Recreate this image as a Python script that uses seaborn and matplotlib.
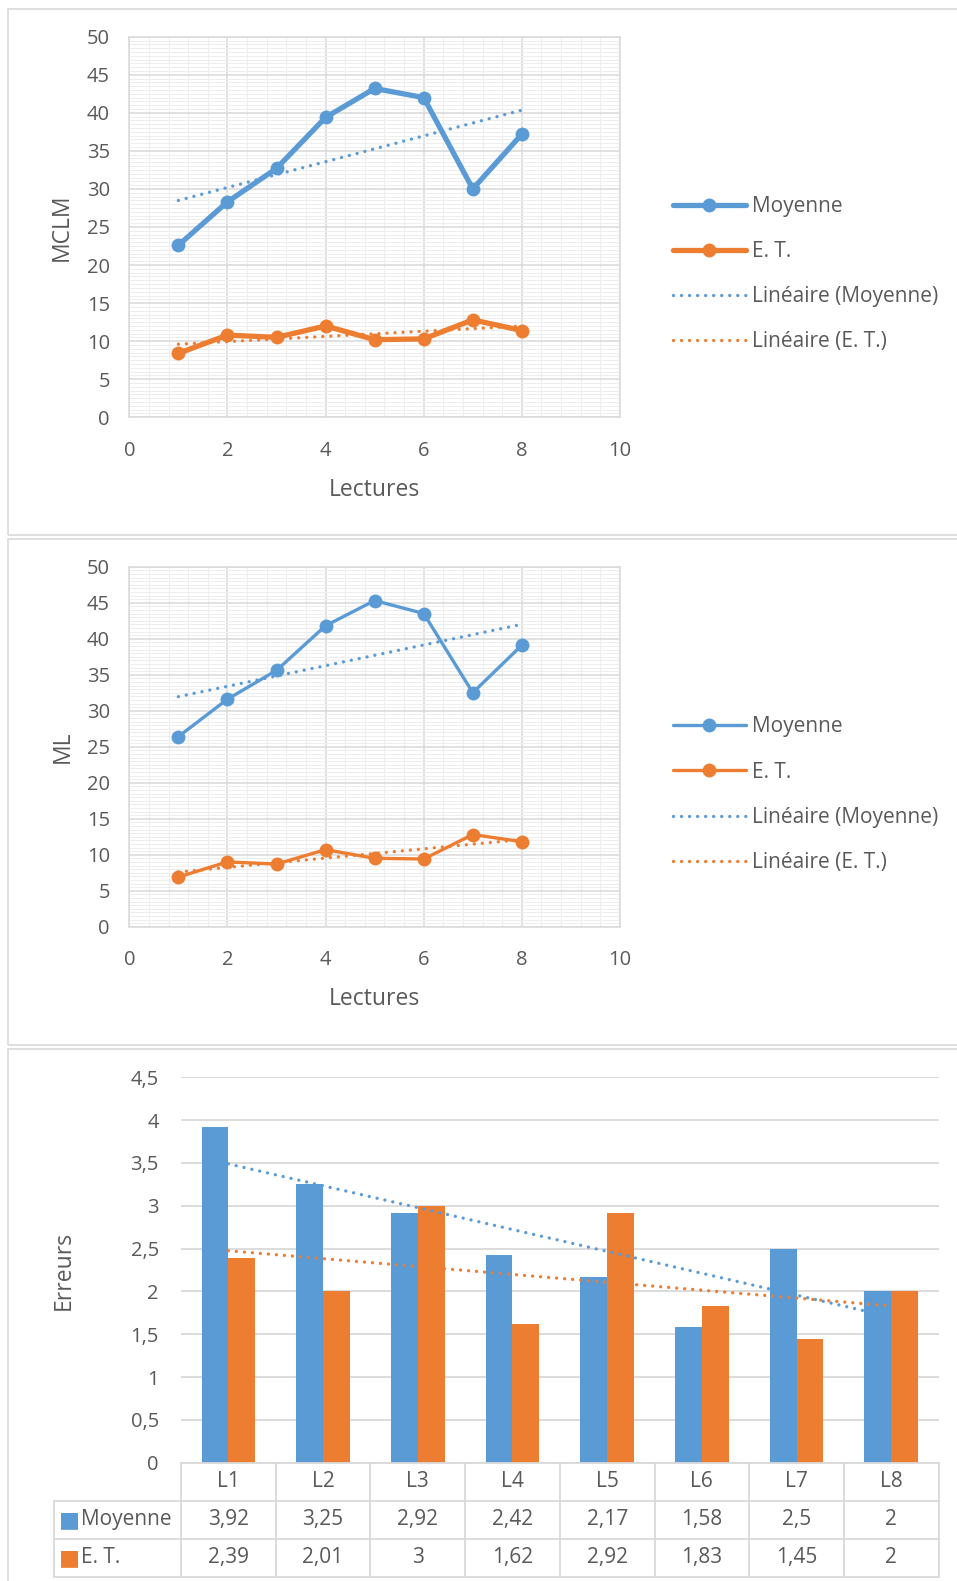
import numpy as np
import pandas as pd
import matplotlib.pyplot as plt
from matplotlib.patches import Rectangle
from matplotlib.ticker import MultipleLocator, FuncFormatter
import seaborn as sns

# donnees
lectures = [1, 2, 3, 4, 5, 6, 7, 8]
mclm_moy = [22.6, 28.3, 32.7, 39.4, 43.2, 42.0, 30.0, 37.2]
mclm_et = [8.4, 10.8, 10.5, 12.0, 10.2, 10.3, 12.8, 11.4]
ml_moy = [26.4, 31.6, 35.6, 41.8, 45.3, 43.5, 32.5, 39.1]
ml_et = [6.9, 9.0, 8.7, 10.7, 9.5, 9.4, 12.8, 11.8]

err_cats = ['L1', 'L2', 'L3', 'L4', 'L5', 'L6', 'L7', 'L8']
err_moy = [3.92, 3.25, 2.92, 2.42, 2.17, 1.58, 2.5, 2]
err_et = [2.39, 2.01, 3, 1.62, 2.92, 1.83, 1.45, 2]

BLUE = '#5B9BD5'
ORANGE = '#ED7D31'
GRID = '#d9d9d9'
TXT = '#595959'
DOTS = dict(ls=(0, (0.01, 2.4)), dash_capstyle='round', lw=2.4)
FS_TICK = 14.5
FS_TITLE = 16.5
FS_LEG = 15

sns.set_style('white')
plt.rcParams['font.family'] = ['Open Sans', 'DejaVu Sans']

W, H = 957, 1581
fig = plt.figure(figsize=(W / 100, H / 100), dpi=100)


def box(l, t, r, b):
    return [l / W, 1 - b / H, (r - l) / W, (b - t) / H]


# cadres des trois graphiques
for t, b in [(8.7, 535), (539, 1044.7), (1048.7, 1600)]:
    fig.add_artist(Rectangle((8 / W, 1 - b / H), 1000 / W, (b - t) / H, transform=fig.transFigure,
                             fill=False, ec=GRID, lw=1.2))


def line_panel(rect, moy, et, ylab, lw, ticklen, ylab_x, xlab_y, leg_top):
    ax = fig.add_axes(box(*rect))
    sns.lineplot(x=lectures, y=moy, ax=ax, color=BLUE, lw=lw, marker='o', ms=10, mew=0, label='Moyenne')
    sns.lineplot(x=lectures, y=et, ax=ax, color=ORANGE, lw=lw, marker='o', ms=10, mew=0, label='E. T.')
    sns.regplot(x=lectures, y=moy, ax=ax, scatter=False, ci=None, label='Linéaire (Moyenne)',
                line_kws=dict(color=BLUE, **DOTS))
    sns.regplot(x=lectures, y=et, ax=ax, scatter=False, ci=None, label='Linéaire (E. T.)',
                line_kws=dict(color=ORANGE, **DOTS))
    ax.set_xlim(0, 10)
    ax.set_ylim(0, 50)
    ax.set_xticks(range(0, 11, 2))
    ax.set_yticks(range(0, 51, 5))
    ax.xaxis.set_minor_locator(MultipleLocator(0.4))
    ax.yaxis.set_minor_locator(MultipleLocator(0.5))
    ax.grid(which='minor', color='#eeeeee', lw=0.8)
    ax.grid(which='major', color=GRID, lw=1.1)
    ax.set_axisbelow(True)
    for s in ax.spines.values():
        s.set_color(GRID)
        s.set_linewidth(1.1)
    ax.tick_params(axis='y', which='major', length=5, color=GRID, width=1.1, pad=9,
                   labelsize=FS_TICK, labelcolor=TXT)
    ax.tick_params(axis='x', which='major', length=ticklen, color=GRID, width=1.1, pad=17 - ticklen,
                   labelsize=FS_TICK, labelcolor=TXT)
    ax.tick_params(which='minor', length=0)
    ax.set_xlabel('Lectures', fontsize=FS_TITLE, color=TXT)
    ax.set_ylabel(ylab, fontsize=FS_TITLE, color=TXT)
    ax.yaxis.set_label_coords(ylab_x, 0.5)
    ax.xaxis.set_label_coords(0.5, xlab_y)
    h, l = ax.get_legend_handles_labels()
    ax.legend(h, l, loc='upper left', bbox_to_anchor=(673 / W, 1 - leg_top / H), bbox_transform=fig.transFigure,
              frameon=False, fontsize=FS_LEG, labelcolor=TXT, handlelength=3.5, handletextpad=0.27,
              labelspacing=1.16, borderpad=0, borderaxespad=0)
    return ax


line_panel((129.3, 36.7, 620, 417.3), mclm_moy, mclm_et, 'MCLM', 3.8, 0, -0.114, -0.160, 196)
line_panel((129.3, 566.7, 620, 926.7), ml_moy, ml_et, 'ML', 2.4, 5, -0.111, -0.168, 716.5)

# graphique en barres des erreurs
ax3 = fig.add_axes(box(181, 1077.3, 938.6, 1462.7))
df = pd.DataFrame({'cat': err_cats * 2, 'val': err_moy + err_et,
                   'serie': ['Moyenne'] * len(err_cats) + ['E. T.'] * len(err_cats)})
sns.barplot(data=df, x='cat', y='val', hue='serie', palette=[BLUE, ORANGE], width=0.567, gap=0,
            errorbar=None, saturation=1, linewidth=0, legend=False, ax=ax3)
xpos = np.arange(len(err_cats))
sns.regplot(x=xpos, y=err_moy, ax=ax3, scatter=False, ci=None, line_kws=dict(color=BLUE, **DOTS))
sns.regplot(x=xpos, y=err_et, ax=ax3, scatter=False, ci=None, line_kws=dict(color=ORANGE, **DOTS))
ax3.set_yticks(np.arange(0, 4.51, 0.5))
ax3.yaxis.set_major_formatter(FuncFormatter(lambda v, _: f'{v:g}'.replace('.', ',')))
ax3.grid(axis='y', color=GRID, lw=1.3)
ax3.set_axisbelow(True)
for s in ['left', 'right', 'top']:
    ax3.spines[s].set_visible(False)
ax3.spines['bottom'].set_color(GRID)
ax3.spines['bottom'].set_linewidth(1.3)
ax3.set_xticks([])
ax3.set_xlabel('')
ax3.tick_params(axis='y', length=0, pad=16, labelsize=FS_TICK, labelcolor=TXT)
ax3.set_ylabel('Erreurs', fontsize=FS_TITLE, color=TXT)
ax3.yaxis.set_label_coords(-0.1386, 0.5)

# tableau de donnees sous le graphique
xt = ax3.get_xaxis_transform()
rh = 38 / 385.4
x_left = -0.5 - 127 / 94.7
line_kw = dict(transform=xt, color=GRID, lw=1.3, clip_on=False)
for i in range(len(err_cats) + 1):
    ax3.plot([i - 0.5, i - 0.5], [0, -3 * rh], **line_kw)
ax3.plot([x_left, x_left], [-rh, -3 * rh], **line_kw)
for k in (1, 2, 3):
    ax3.plot([x_left, len(err_cats) - 0.5], [-k * rh, -k * rh], **line_kw)
ax3.set_xlim(-0.5, len(err_cats) - 0.5)
ax3.set_ylim(0, 4.5)

fmt = lambda v: f'{v:g}'.replace('.', ',')
for i, c in enumerate(err_cats):
    ax3.text(i, -0.5 * rh, c, transform=xt, ha='center', va='center', fontsize=FS_LEG, color=TXT)
    ax3.text(i, -1.5 * rh, fmt(err_moy[i]), transform=xt, ha='center', va='center', fontsize=FS_LEG, color=TXT)
    ax3.text(i, -2.5 * rh, fmt(err_et[i]), transform=xt, ha='center', va='center', fontsize=FS_LEG, color=TXT)
for k, (name, col) in enumerate([('Moyenne', BLUE), ('E. T.', ORANGE)]):
    y = -(1.5 + k) * rh
    ax3.text(x_left + 0.16, y, '■', transform=xt, ha='center', va='center', fontsize=16,
             color=col, family='DejaVu Sans')
    ax3.text(x_left + 0.28, y, name, transform=xt, ha='left', va='center', fontsize=FS_LEG, color=TXT)

fig.savefig('out.png', dpi=100)
